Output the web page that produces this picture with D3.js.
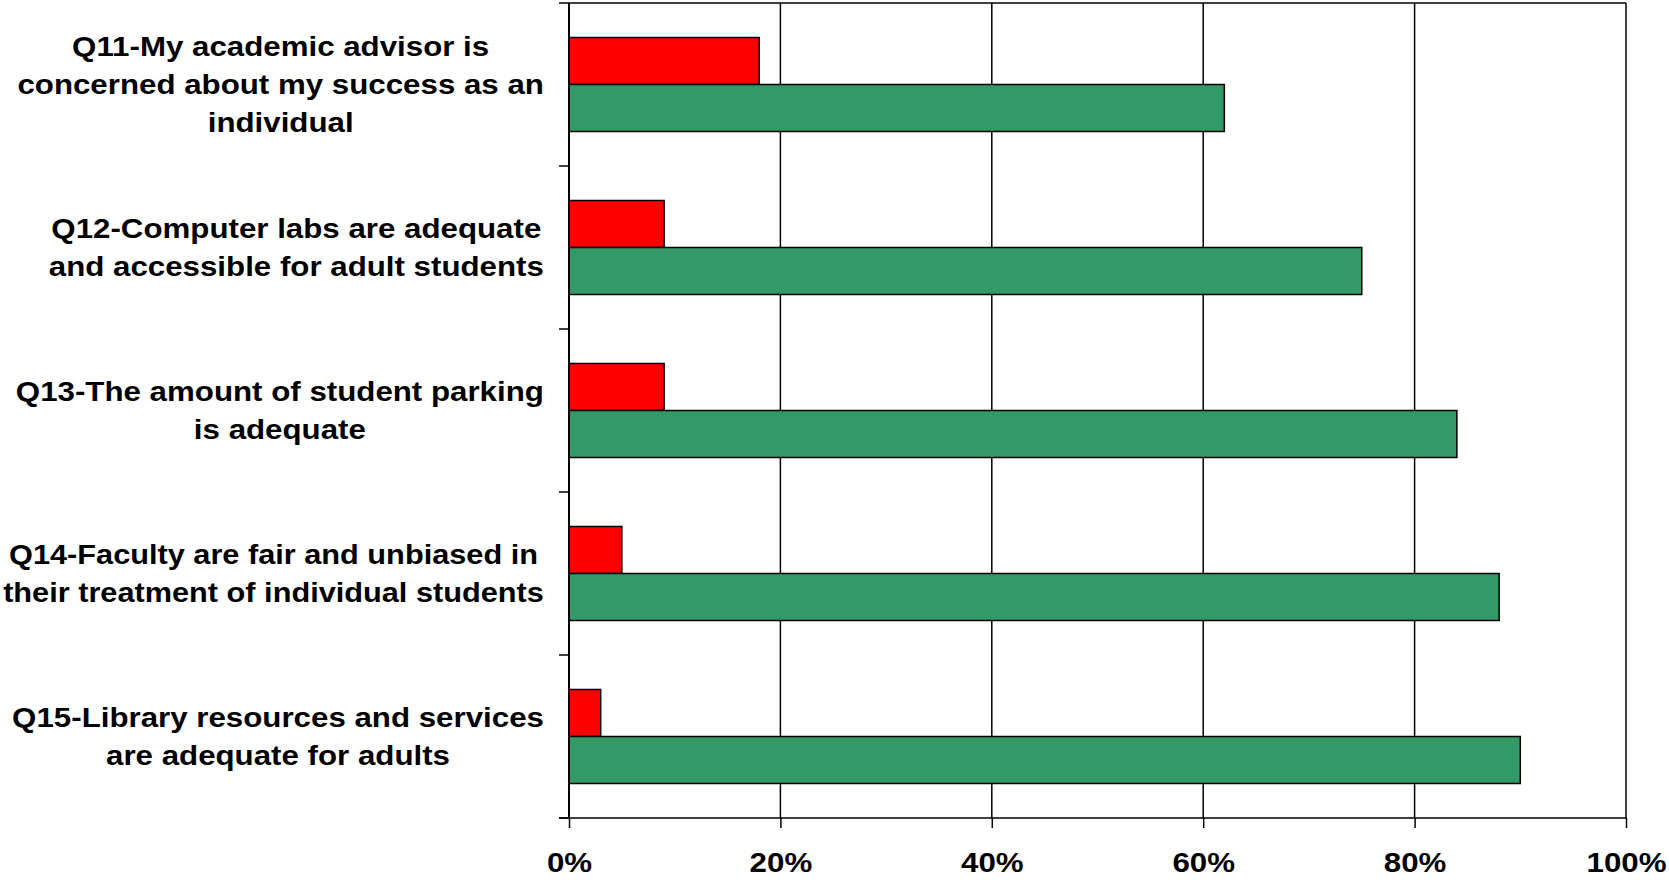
<!DOCTYPE html>
<html>
<head>
<meta charset="utf-8">
<script src="https://cdn.jsdelivr.net/npm/d3@7"></script>
<style>
  html, body { margin: 0; padding: 0; background: #fff; }
  svg { display: block; }
  text { font-family: "Liberation Sans", Arial, Helvetica, sans-serif; font-weight: bold; fill: #000; }
</style>
</head>
<body>
<svg id="chart" width="1669" height="885"></svg>
<script>
// Survey items (top to bottom), each label split into its display lines
const categories = ["Q11", "Q12", "Q13", "Q14", "Q15"];
const categoryLines = [
  ["Q11-My academic advisor is", "concerned about my success as an", "individual"],
  ["Q12-Computer labs are adequate", "and accessible for adult students"],
  ["Q13-The amount of student parking", "is adequate"],
  ["Q14-Faculty are fair and unbiased in", "their treatment of individual students"],
  ["Q15-Library resources and services", "are adequate for adults"]
];
const seriesNames = ["Disagree", "Agree"];
const disagreeValues = [0.18, 0.09, 0.09, 0.05, 0.03];
const agreeValues = [0.62, 0.75, 0.84, 0.88, 0.90];
const tickValues = [0, 0.2, 0.4, 0.6, 0.8, 1.0];
const seriesColors = ["#ff0000", "#339966"];

const svg = d3.select("#chart");
const plot = { left: 569, right: 1626, top: 3, bottom: 818 };
const stretchX = 1.117; // text is drawn slightly wide

const x = d3.scaleLinear().domain([0, 1]).range([plot.left, plot.right]);
const y0 = d3.scaleBand().domain(categories).range([plot.top, plot.bottom]).padding(0);
const y1 = d3.scaleBand().domain(seriesNames).range([0, y0.bandwidth()])
  .paddingInner(0).paddingOuter(0.734);

const rows = categories.map((c, i) => ({
  cat: c,
  values: [
    { series: seriesNames[0], value: disagreeValues[i] },
    { series: seriesNames[1], value: agreeValues[i] }
  ]
}));

// Vertical gridlines
svg.append("g")
  .selectAll("line")
  .data(tickValues.slice(1))
  .join("line")
  .attr("x1", d => x(d)).attr("x2", d => x(d))
  .attr("y1", plot.top).attr("y2", plot.bottom)
  .attr("stroke", "#000").attr("stroke-width", 1.5);

// Plot-area top border
svg.append("line")
  .attr("x1", plot.left).attr("x2", plot.right)
  .attr("y1", plot.top).attr("y2", plot.top)
  .attr("stroke", "#000").attr("stroke-width", 1.5);

// Bars
const groups = svg.append("g")
  .selectAll("g")
  .data(rows)
  .join("g")
  .attr("transform", d => `translate(0,${y0(d.cat)})`);

groups.selectAll("rect")
  .data(d => d.values)
  .join("rect")
  .attr("x", x(0))
  .attr("y", d => y1(d.series))
  .attr("width", d => x(d.value) - x(0))
  .attr("height", y1.bandwidth())
  .attr("fill", (d, i) => seriesColors[i])
  .attr("stroke", "#000")
  .attr("stroke-width", 1.5);

// Bottom axis with outward ticks
const xAxis = d3.axisBottom(x)
  .tickValues(tickValues)
  .tickSize(10)
  .tickSizeOuter(0)
  .tickFormat(d3.format(".0%"));

const gx = svg.append("g")
  .attr("transform", `translate(0,${plot.bottom})`)
  .call(xAxis);
gx.select(".domain")
  .attr("d", `M${plot.left - 10},0H${plot.right}`)
  .attr("stroke", "#000").attr("stroke-width", 1.5);
gx.selectAll(".tick line").attr("stroke", "#000").attr("stroke-width", 1.5);
gx.selectAll(".tick text")
  .attr("y", 54)
  .attr("dy", 0)
  .attr("font-size", 28)
  .attr("font-family", "'Liberation Sans', Arial, sans-serif")
  .attr("font-weight", "bold")
  .attr("fill", "#000")
  .attr("transform", `scale(${stretchX},1)`);

// Left axis: line plus ticks at category boundaries
const boundaries = categories.map(c => y0(c)).concat([plot.bottom]);
const gy = svg.append("g");
gy.append("line")
  .attr("x1", plot.left).attr("x2", plot.left)
  .attr("y1", plot.top).attr("y2", plot.bottom)
  .attr("stroke", "#000").attr("stroke-width", 2);
gy.selectAll("line.tk")
  .data(boundaries)
  .join("line")
  .attr("class", "tk")
  .attr("x1", plot.left - 10).attr("x2", plot.left)
  .attr("y1", d => d).attr("y2", d => d)
  .attr("stroke", "#000").attr("stroke-width", 1.5);

// Category labels: lines centred within a block whose right edge sits by the axis
const labelRight = 544;
const labelMaxWidth = 541;
const lineGap = 38;
const labels = svg.append("g")
  .selectAll("g")
  .data(categoryLines)
  .join("g");

labels.each(function (lines, i) {
  const g = d3.select(this);
  const n = lines.length;
  const cy = y0(categories[i]) + y0.bandwidth() / 2 + 9.5;
  const texts = lines.map(t => g.append("text")
    .attr("text-anchor", "middle")
    .attr("font-size", 28)
    .text(t));
  const rawMax = d3.max(texts, s => s.node().getComputedTextLength());
  const sx = Math.min(stretchX, labelMaxWidth / rawMax);
  const cx = labelRight - (rawMax * sx) / 2;
  texts.forEach((s, k) => {
    s.attr("transform", `translate(${cx},${cy + (k - (n - 1) / 2) * lineGap}) scale(${sx},1)`);
  });
});
</script>
</body>
</html>
